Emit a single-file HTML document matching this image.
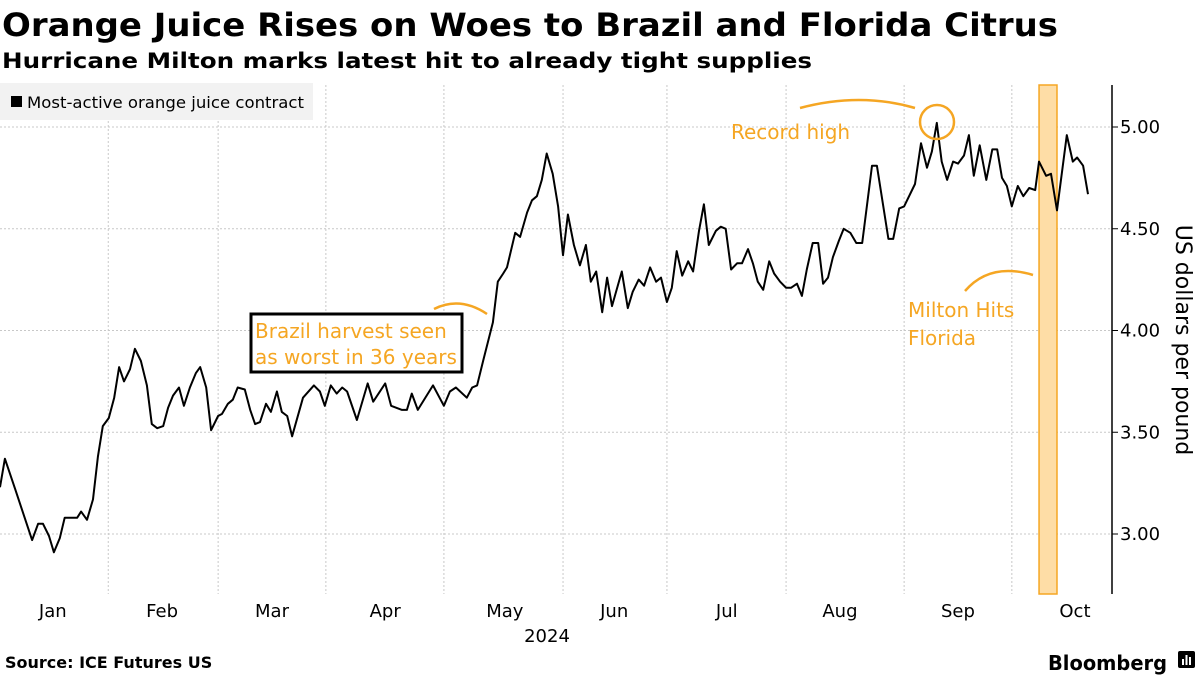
<!DOCTYPE html>
<html><head><meta charset="utf-8"><style>
html,body{margin:0;padding:0;background:#fff;}
svg{display:block;font-family:"DejaVu Sans","Liberation Sans",sans-serif;}
</style></head><body>
<svg id="chart" width="1200" height="675" viewBox="0 0 1200 675" xmlns="http://www.w3.org/2000/svg">
<text x="2" y="36" font-size="32" font-weight="bold" fill="#000" textLength="1056" lengthAdjust="spacingAndGlyphs">Orange Juice Rises on Woes to Brazil and Florida Citrus</text>
<text x="2" y="68" font-size="21" font-weight="bold" fill="#000" textLength="810" lengthAdjust="spacingAndGlyphs">Hurricane Milton marks latest hit to already tight supplies</text>
<g id="grid"></g>
<g id="band"></g>
<g>
<rect x="0" y="83" width="313" height="37" fill="#f2f2f2"/>
<rect x="11" y="96" width="11" height="11" fill="#000"/>
<text x="27" y="108" font-size="16" fill="#000" textLength="277" lengthAdjust="spacingAndGlyphs">Most-active orange juice contract</text>
</g>
<g id="axes"></g>
<path id="line" fill="none" stroke="#000" stroke-width="2" stroke-linejoin="round"/>
<g>
<text x="731" y="139" font-size="20" fill="#f5a623">Record high</text>
<path d="M800,108 Q860,92 915,108" fill="none" stroke="#f5a623" stroke-width="2.5"/>
<circle cx="937" cy="122" r="17" fill="none" stroke="#f5a623" stroke-width="2.5"/>
<rect x="251" y="314" width="211" height="58" fill="#fff" stroke="#000" stroke-width="3"/>
<text x="255" y="338" font-size="20" fill="#f5a623">Brazil harvest seen</text>
<text x="255" y="364" font-size="20" fill="#f5a623">as worst in 36 years</text>
<path d="M434,309 Q460,296 487,314" fill="none" stroke="#f5a623" stroke-width="2.5"/>
<text x="908" y="317" font-size="20" fill="#f5a623">Milton Hits</text>
<text x="908" y="345" font-size="20" fill="#f5a623">Florida</text>
<path d="M965,291 Q990,262 1033,275" fill="none" stroke="#f5a623" stroke-width="2.5"/>
</g>
<text transform="translate(1176,340) rotate(90)" text-anchor="middle" font-size="22" fill="#000">US dollars per pound</text>
<text x="547" y="642" text-anchor="middle" font-size="18" fill="#000">2024</text>
<text x="5" y="668" font-size="16" font-weight="bold" fill="#000">Source: ICE Futures US</text>
<text x="1048" y="670" font-size="20" font-weight="bold" fill="#000" textLength="119" lengthAdjust="spacingAndGlyphs">Bloomberg</text>
<g>
<rect x="1178" y="651" width="17" height="17" rx="2" fill="#000"/>
<rect x="1182" y="659" width="2" height="6" fill="#fff"/><rect x="1185.5" y="655" width="2" height="10" fill="#fff"/><rect x="1189" y="657" width="2" height="8" fill="#fff"/>
</g>
</svg>
<script>
const days=[0,0.9,2.8,5.9,7.0,7.9,9.0,9.9,11.0,11.9,14.2,14.9,16.0,17.1,18.0,18.9,20.0,21.0,21.9,22.8,23.9,24.8,25.9,27.0,27.9,28.9,30.0,30.9,31.8,32.9,33.8,34.9,36.0,36.8,37.9,38.8,40.1,40.8,41.9,42.8,43.7,45.0,46.0,46.9,47.8,48.9,49.8,50.9,51.8,52.8,53.7,55.7,57.7,58.8,59.7,60.8,61.9,62.9,63.8,65.6,67.6,68.6,70.8,71.9,73.9,74.8,75.7,76.8,79.6,81.6,82.7,83.8,85.8,86.8,87.7,88.8,90.6,91.5,92.5,93.2,94.7,95.6,96.9,97.8,98.7,99.6,100.5,101.6,102.6,103.5,104.4,105.5,106.6,107.7,108.6,109.6,110.7,111.6,112.5,114.3,115.4,116.3,117.4,118.4,119.5,120.6,121.5,122.6,123.5,124.4,125.4,126.5,127.4,128.5,129.4,130.3,131.6,132.5,133.4,134.4,135.5,136.4,137.5,138.4,139.3,140.3,141.4,142.3,143.4,144.5,145.4,146.5,147.4,148.3,149.4,150.4,151.3,152.2,153.1,154.2,155.1,156.3,157.4,158.5,160.3,161.2,163.3,164.2,165.3,166.2,168.2,169.3,170.4,171.3,172.2,173.1,174.1,175.2,176.1,177.2,178.1,179.0,180.1,181.3,182.4,183.3,184.2,185.1,186.0,187.1,188.1,189.2,190.3,191.0,192.3,193.2,194.3,196.1,197.2,198.0,199.1,200.0];
const prices=[3.23,3.37,3.22,2.97,3.05,3.05,2.99,2.91,2.98,3.08,3.08,3.11,3.07,3.17,3.38,3.53,3.57,3.67,3.82,3.75,3.81,3.91,3.85,3.73,3.54,3.52,3.53,3.62,3.68,3.72,3.63,3.72,3.79,3.82,3.72,3.51,3.58,3.59,3.64,3.66,3.72,3.71,3.61,3.54,3.55,3.64,3.60,3.70,3.60,3.58,3.48,3.67,3.73,3.70,3.63,3.73,3.69,3.72,3.70,3.56,3.74,3.65,3.74,3.63,3.61,3.61,3.69,3.61,3.73,3.63,3.70,3.72,3.67,3.72,3.73,3.85,4.04,4.24,4.28,4.31,4.48,4.46,4.58,4.64,4.66,4.74,4.87,4.77,4.61,4.37,4.57,4.42,4.32,4.42,4.24,4.29,4.09,4.26,4.12,4.29,4.11,4.19,4.25,4.22,4.31,4.24,4.26,4.14,4.21,4.39,4.27,4.34,4.29,4.49,4.62,4.42,4.49,4.51,4.50,4.30,4.33,4.33,4.40,4.33,4.24,4.20,4.34,4.28,4.24,4.21,4.21,4.23,4.17,4.30,4.43,4.43,4.23,4.26,4.36,4.44,4.50,4.48,4.43,4.43,4.81,4.81,4.45,4.45,4.60,4.61,4.72,4.92,4.80,4.88,5.02,4.83,4.74,4.83,4.82,4.86,4.96,4.76,4.91,4.74,4.89,4.89,4.75,4.71,4.61,4.71,4.66,4.70,4.69,4.83,4.76,4.77,4.59,4.96,4.83,4.85,4.81,4.67];
const yTicks=[3.0,3.5,4.0,4.5,5.0];
const yTickLabels=["3.00","3.50","4.00","4.50","5.00"];
const monthBoundaries=[19.9,40.1,59.9,81.6,103.5,122.6,144.5,166.2,186.0];
const monthLabels=["Jan","Feb","Mar","Apr","May","Jun","Jul","Aug","Sep","Oct"];
const monthCenters=[9.7,29.8,50.0,70.8,92.8,112.9,133.6,154.4,176.1,197.6];
const eventBand=[191.0,194.3];

const X0=0,X1=1088,Y_TOP=85,Y_BOT=594;
const x=d=>X0+(d/200)*(X1-X0);
const y=v=>127+(5-v)*203.5;
const NS="http://www.w3.org/2000/svg";
function mk(tag,parent,attrs){const e=document.createElementNS(NS,tag);for(const k in attrs)e.setAttribute(k,attrs[k]);parent.appendChild(e);return e;}
const grid=document.getElementById('grid'),axes=document.getElementById('axes'),band=document.getElementById('band');
yTicks.forEach((t,i)=>{
  const g=mk('line',grid,{x1:0,x2:1110,y1:y(t),y2:y(t),stroke:'#c8c8c8','stroke-width':1,'stroke-dasharray':'2,2'});
  
  
  const tk=mk('line',axes,{x1:1112,x2:1118,y1:y(t),y2:y(t),stroke:'#000','stroke-width':1});
  
  
  const lb=mk('text',axes,{x:1120,y:y(t)+6,'font-size':18,fill:'#000'});
  lb.textContent=yTickLabels[i];
  
  
});
monthBoundaries.forEach(d=>{
  const g=mk('line',grid,{x1:x(d),x2:x(d),y1:Y_TOP,y2:Y_BOT,stroke:'#c8c8c8','stroke-width':1,'stroke-dasharray':'2,2'});
  
  
});
monthLabels.forEach((m,i)=>{
  const t=mk('text',axes,{x:x(monthCenters[i]),y:617,'text-anchor':'middle','font-size':18,fill:'#000'});
  t.textContent=m;
  
  
});
const ax=mk('line',axes,{x1:1112,x2:1112,y1:Y_TOP,y2:Y_BOT,stroke:'#000','stroke-width':1.5});


const br=mk('rect',band,{x:x(eventBand[0]),y:Y_TOP,width:x(eventBand[1])-x(eventBand[0]),height:Y_BOT-Y_TOP,fill:'#fedda6',stroke:'#f5a623','stroke-width':1.5});


document.getElementById('line').setAttribute('d',days.map((d,i)=>(i?'L':'M')+x(d).toFixed(1)+','+y(prices[i]).toFixed(1)).join(''));
</script>
</body></html>
